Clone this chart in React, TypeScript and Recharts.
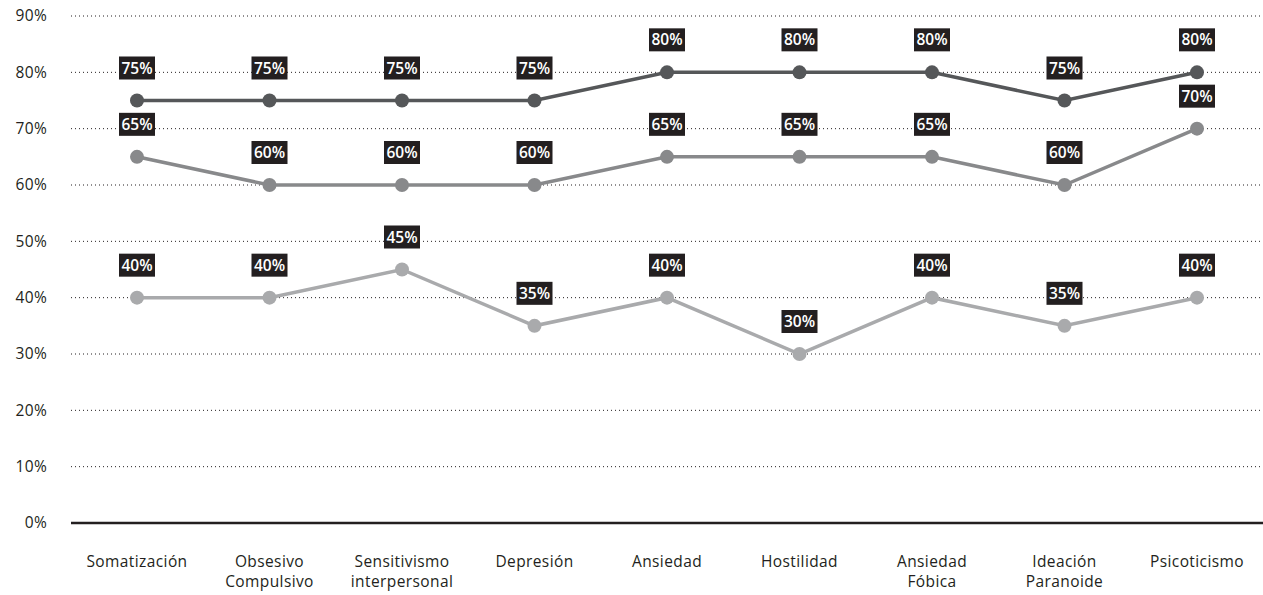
import React from 'react';
import {
  LineChart,
  Line,
  XAxis,
  YAxis,
  CartesianGrid,
  LabelList,
} from 'recharts';

const categories = [
  'Somatización',
  'Obsesivo Compulsivo',
  'Sensitivismo interpersonal',
  'Depresión',
  'Ansiedad',
  'Hostilidad',
  'Ansiedad Fóbica',
  'Ideación Paranoide',
  'Psicoticismo',
];

const seriesHigh = [75, 75, 75, 75, 80, 80, 80, 75, 80];
const seriesMid = [65, 60, 60, 60, 65, 65, 65, 60, 70];
const seriesLow = [40, 40, 45, 35, 40, 30, 40, 35, 40];

const yTicks = [0, 10, 20, 30, 40, 50, 60, 70, 80, 90];

const data = categories.map((name, i) => ({
  name,
  high: seriesHigh[i],
  mid: seriesMid[i],
  low: seriesLow[i],
}));

const FONT = '"Open Sans", sans-serif';
const TEXT = '#231f20';

// black tag with white percentage above each point
const ValueTag = (props: any) => {
  const { x, y, value } = props;
  if (x == null || y == null) return null;
  const w = 36;
  const h = 23;
  return (
    <g>
      <rect x={x - w / 2} y={y - 21 - h} width={w} height={h} fill={TEXT} />
      <text
        x={x}
        y={y - 21 - h / 2}
        dy="0.36em"
        textAnchor="middle"
        fill="#ffffff"
        fontFamily={FONT}
        fontWeight={600}
        fontSize={15.5}
      >
        {value}%
      </text>
    </g>
  );
};

const CategoryTick = (props: any) => {
  const { x, y, payload } = props;
  const lines = String(payload.value).split(' ');
  return (
    <text
      x={x}
      y={y + 36}
      textAnchor="middle"
      fill={TEXT}
      fontFamily={FONT}
      fontSize={15.5}
      letterSpacing={0.4}
    >
      {lines.map((line, i) => (
        <tspan key={i} x={x} dy={i === 0 ? 0 : 20}>
          {line}
        </tspan>
      ))}
    </text>
  );
};

const PercentTick = (props: any) => {
  const { y, payload } = props;
  return (
    <text
      x={47}
      y={y}
      dy="0.35em"
      textAnchor="end"
      fill={TEXT}
      fontFamily={FONT}
      fontSize={15.5}
      letterSpacing={0.3}
    >
      {payload.value}%
    </text>
  );
};

const SERIES = [
  { key: 'low', color: '#a9aaac' },
  { key: 'mid', color: '#88898b' },
  { key: 'high', color: '#555759' },
];

export default function App() {
  return (
    <div style={{ width: 1263, height: 595, background: '#ffffff' }}>
      <style>{'body{margin:0;}'}</style>
      <LineChart
        width={1263}
        height={595}
        data={data}
        margin={{ top: 16, right: 0, left: 0, bottom: 0 }}
      >
        <CartesianGrid
          horizontal
          vertical={false}
          stroke="#231f20"
          strokeDasharray="1 3"
          strokeWidth={1}
        />
        <XAxis
          dataKey="name"
          height={72}
          padding={{ left: 66, right: 66 }}
          axisLine={{ stroke: TEXT, strokeWidth: 2.5 }}
          tickLine={false}
          interval={0}
          tick={<CategoryTick />}
        />
        <YAxis
          width={71}
          domain={[0, 90]}
          ticks={yTicks}
          axisLine={false}
          tickLine={false}
          tick={<PercentTick />}
        />
        {SERIES.map((s) => (
          <Line
            key={s.key}
            type="linear"
            dataKey={s.key}
            stroke={s.color}
            strokeWidth={3.5}
            dot={{ r: 7, fill: s.color, stroke: 'none' }}
            activeDot={false}
            isAnimationActive={false}
          >
            <LabelList dataKey={s.key} content={<ValueTag />} />
          </Line>
        ))}
      </LineChart>
    </div>
  );
}
